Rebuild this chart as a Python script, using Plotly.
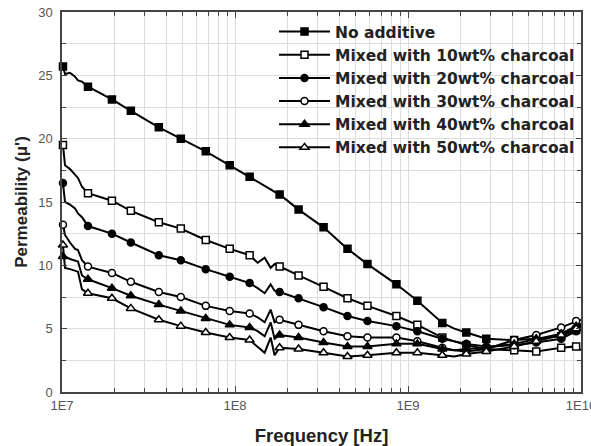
import plotly.graph_objects as go

# Frequency grid (Hz) of the measured curves
freq_hz = [1.013e7, 1.041e7, 1.112e7, 1.189e7, 1.237e7, 1.305e7, 1.413e7, 1.944e7, 2.500e7, 3.628e7,
           4.862e7, 6.776e7, 9.32e7, 1.215e8, 1.352e8, 1.484e8, 1.607e8, 1.694e8, 1.811e8, 2.331e8,
           3.25e8, 4.47e8, 5.83e8, 8.57e8, 1.133e9, 1.579e9, 1.852e9, 2.173e9, 2.835e9, 4.11e9,
           5.51e9, 7.68e9, 9.37e9, 1.0e10]
# indices of the points that carry a symbol
marker_idx = [0, 6, 7, 8, 9, 10, 11, 12, 13, 18, 19, 20, 21, 22, 23, 24, 25, 27, 28, 29, 30, 31, 32]

mu_no_additive = [25.7, 25.1, 25.2, 24.9, 24.6, 24.5, 24.1, 23.1, 22.2, 20.9, 20.0, 19.0, 17.9, 17.0,
                  16.6, 16.3, 16.0, 15.8, 15.6, 14.4, 13.0, 11.3, 10.1, 8.5, 7.2, 5.45, 5.0, 4.7,
                  4.2, 4.1, 4.2, 4.4, 4.9, 5.1]
mu_10wt = [19.5, 17.9, 17.6, 17.2, 16.9, 16.2, 15.7, 15.1, 14.3, 13.4, 12.9, 12.0, 11.3, 10.8,
           10.2, 10.6, 9.8, 10.1, 9.9, 9.2, 8.3, 7.4, 6.8, 6.0, 5.3, 4.3, 4.0, 3.7,
           3.4, 3.3, 3.2, 3.5, 3.6, 3.3]
mu_20wt = [16.5, 15.0, 14.8, 14.5, 14.1, 13.8, 13.1, 12.5, 11.8, 10.8, 10.4, 9.7, 9.1, 8.6,
           8.2, 7.8, 8.5, 8.0, 7.9, 7.4, 6.7, 6.0, 5.6, 5.2, 4.8, 4.2, 4.0, 3.8,
           3.6, 3.7, 3.9, 4.2, 4.8, 5.3]
mu_30wt = [13.2, 12.4, 11.8, 11.3, 11.2, 10.4, 9.9, 9.4, 8.7, 7.9, 7.5, 6.8, 6.4, 6.2,
           5.9, 5.5, 6.5, 5.5, 5.7, 5.3, 4.8, 4.4, 4.3, 4.3, 4.0, 3.5, 3.3, 3.2,
           3.4, 4.1, 4.5, 5.1, 5.6, 5.7]
mu_40wt = [10.7, 10.7, 10.5, 10.4, 10.3, 9.2, 8.9, 8.2, 7.6, 6.9, 6.4, 5.8, 5.3, 5.1,
           4.8, 4.4, 5.5, 4.2, 4.5, 4.3, 3.9, 3.6, 3.6, 3.8, 3.8, 3.4, 3.3, 3.4,
           3.5, 3.8, 4.2, 4.6, 5.2, 5.4]
mu_50wt = [11.6, 9.8, 9.7, 9.6, 9.5, 8.1, 7.8, 7.4, 6.6, 5.7, 5.2, 4.7, 4.3, 4.1,
           3.6, 3.1, 4.3, 2.9, 3.5, 3.4, 3.1, 2.8, 2.9, 3.1, 3.1, 2.9, 2.8, 3.0,
           3.2, 3.6, 4.0, 4.5, 5.0, 5.0]

series_names = ["No additive", "Mixed with 10wt% charcoal", "Mixed with 20wt% charcoal",
                "Mixed with 30wt% charcoal", "Mixed with 40wt% charcoal", "Mixed with 50wt% charcoal"]
series_values = [mu_no_additive, mu_10wt, mu_20wt, mu_30wt, mu_40wt, mu_50wt]
series_symbols = ["square", "square", "circle", "circle", "triangle-up", "triangle-up"]
series_fill = ["black", "white", "black", "white", "black", "white"]

x_tick_vals = [1e7, 1e8, 1e9, 1e10]
x_tick_text = ["1E7", "1E8", "1E9", "1E10"]

FONT = "Arial, 'Liberation Sans', sans-serif"
LEGEND_FONT = "'DejaVu Sans', Arial, sans-serif"
GRID = "#dcdcdc"

fig = go.Figure()
for name, vals, sym, fill in zip(series_names, series_values, series_symbols, series_fill):
    fig.add_trace(go.Scatter(x=freq_hz, y=vals, mode="lines",
                             line=dict(color="black", width=2),
                             showlegend=False, hoverinfo="skip", legendgroup=name))
    mk = dict(symbol=sym, size=7 if sym != "triangle-up" else 8, color=fill,
              line=dict(color="black", width=1.5))
    fig.add_trace(go.Scatter(x=[freq_hz[i] for i in marker_idx], y=[vals[i] for i in marker_idx],
                             mode="markers", marker=mk, showlegend=False, cliponaxis=False,
                             legendgroup=name, name=name))
    fig.add_trace(go.Scatter(x=[None], y=[None], mode="lines+markers", name="<b>" + name + "</b>",
                             line=dict(color="black", width=2), marker=mk, legendgroup=name))

minor_x = [m * 10 ** e for e in (7, 8, 9) for m in range(2, 10)]

fig.update_layout(
    width=591, height=446, template="none",
    paper_bgcolor="white", plot_bgcolor="white",
    margin=dict(l=62, r=10, t=12, b=54),
    font=dict(family=FONT, color="#222"),
    showlegend=True,
    legend=dict(x=0.4085, y=0.992, xanchor="left", yanchor="top",
                bgcolor="rgba(0,0,0,0)", borderwidth=0,
                font=dict(family=LEGEND_FONT, size=15.5, color="#222"),
                itemwidth=51, tracegroupgap=0),
    xaxis=dict(type="log", range=[7, 10], tickmode="array", tickvals=x_tick_vals,
               ticktext=x_tick_text, ticks="inside", ticklen=6, tickwidth=1, tickcolor="#444",
               showline=True, linecolor="#444", linewidth=1.5, mirror="allticks",
               showgrid=True, gridcolor=GRID, gridwidth=1, zeroline=False, automargin=False,
               tickfont=dict(size=13, color="#555"), ticklabelstandoff=1,
               ticklabeloverflow="allow",
               minor=dict(tickmode="array", tickvals=minor_x, ticks="inside", ticklen=4,
                          tickcolor="#444", showgrid=True, gridcolor=GRID, gridwidth=1),
               title=dict(text="<b>Frequency [Hz]</b>", font=dict(size=18.5, color="#222"),
                          standoff=17)),
    yaxis=dict(range=[0, 30], tickmode="linear", tick0=0, dtick=5,
               ticks="inside", ticklen=5, tickwidth=1, tickcolor="#444",
               showline=True, linecolor="#444", linewidth=1.5, mirror="allticks",
               showgrid=True, gridcolor=GRID, gridwidth=1, zeroline=False, automargin=False,
               tickfont=dict(size=13, color="#555"), ticklabelstandoff=5,
               minor=dict(dtick=2.5, ticks="inside", ticklen=4, tickcolor="#444",
                          showgrid=True, gridcolor=GRID, gridwidth=1),
               title=dict(text="<b>Permeability (μ')</b>", font=dict(size=17, color="#222"),
                          standoff=6)),
)

fig.write_html("out.html")
